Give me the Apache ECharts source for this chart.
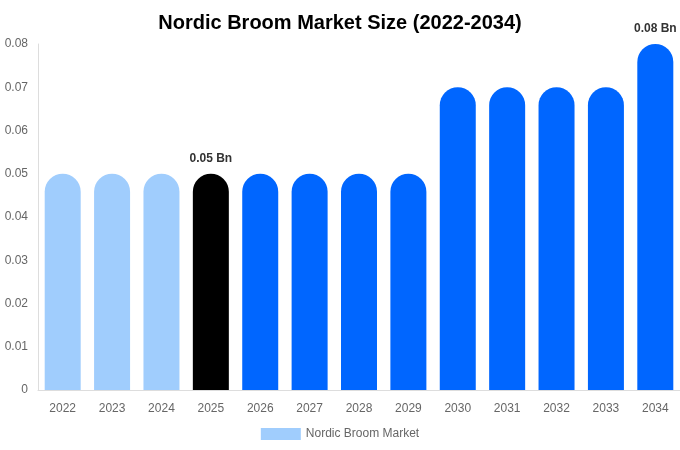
<!DOCTYPE html>
<html>
<head>
<meta charset="utf-8">
<script src="https://cdn.jsdelivr.net/npm/echarts@6/dist/echarts.min.js"></script>
<style>html,body{margin:0;padding:0;background:#fff}#c{width:680px;height:450px}</style>
</head>
<body>
<div id="c"></div>
<script>
var categories = ['2022','2023','2024','2025','2026','2027','2028','2029','2030','2031','2032','2033','2034'];
var values = [0.05,0.05,0.05,0.05,0.05,0.05,0.05,0.05,0.07,0.07,0.07,0.07,0.08];
var barColors = ['#a0cdfd','#a0cdfd','#a0cdfd','#000000','#0066ff','#0066ff','#0066ff','#0066ff','#0066ff','#0066ff','#0066ff','#0066ff','#0066ff'];
var labelled = {'2025':'0.05 Bn','2034':'0.08 Bn'};
var seriesName = 'Nordic Broom Market';

var chart = echarts.init(document.getElementById('c'));
chart.setOption({
  animation: false,
  title: {text: 'Nordic Broom Market Size (2022-2034)', left: 'center', top: 8,
    textStyle: {fontFamily: 'Liberation Sans, Arial, sans-serif', fontSize: 20, fontWeight: 'bold', color: '#000'}},
  grid: {left: 38, right: 0, top: 44, bottom: 60},
  legend: {top: 423, itemWidth: 40, itemHeight: 12, icon: 'rect',
    textStyle: {fontFamily: 'Liberation Sans, Arial, sans-serif', fontSize: 12, color: '#666'},
    data: [{name: seriesName, itemStyle: {color: '#a0cdfd'}}]},
  xAxis: {type: 'category', data: categories,
    axisLine: {lineStyle: {color: '#ddd'}}, axisTick: {show: false},
    axisLabel: {color: '#666', fontSize: 12, fontFamily: 'Liberation Sans, Arial, sans-serif', margin: 13}},
  yAxis: {type: 'value', min: 0, max: 0.08, interval: 0.01,
    axisLine: {show: true, lineStyle: {color: '#ddd'}}, axisTick: {show: false}, splitLine: {show: false},
    axisLabel: {color: '#666', fontSize: 12, fontFamily: 'Liberation Sans, Arial, sans-serif', margin: 10}},
  series: [{
    name: seriesName, type: 'bar', barWidth: 36,
    data: values.map(function(v, i){
      var d = {value: v, itemStyle: {color: barColors[i], borderRadius: [18,18,0,0]}};
      if (labelled[categories[i]]) {
        d.label = {show: true, position: 'top', distance: 9, formatter: labelled[categories[i]],
          fontWeight: 'bold', fontSize: 12, color: '#333', fontFamily: 'Liberation Sans, Arial, sans-serif'};
      }
      return d;
    })
  }]
});
</script>
</body>
</html>
